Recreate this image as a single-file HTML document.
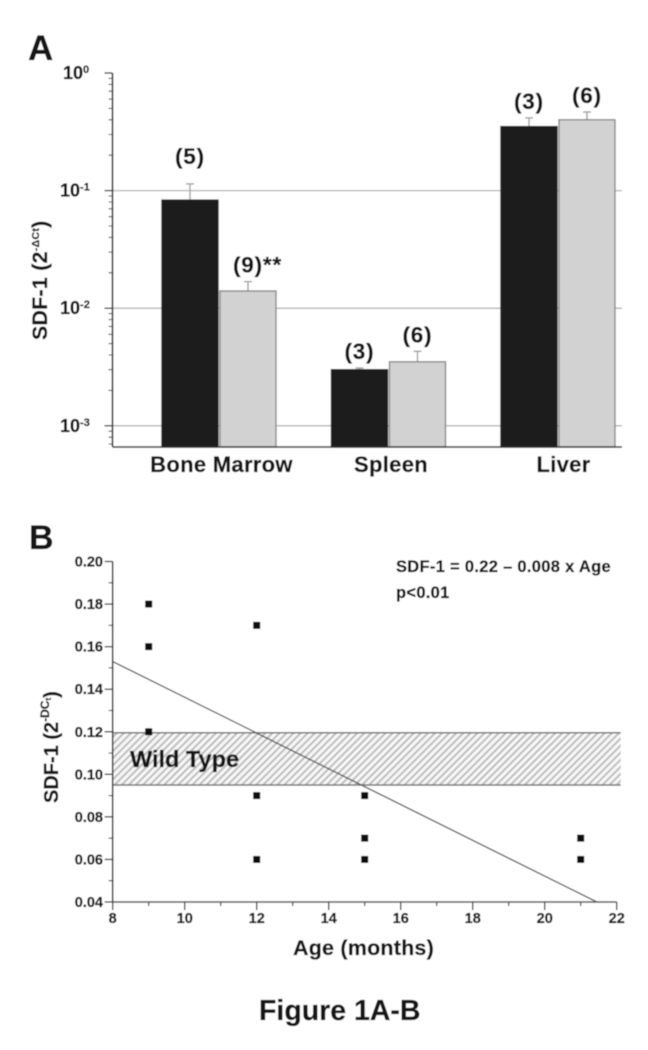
<!DOCTYPE html>
<html lang="en">
<head>
<meta charset="utf-8">
<title>Figure 1A-B</title>
<style>
html,body{margin:0;padding:0;background:#fff;width:648px;height:1050px;overflow:hidden}
svg{display:block}
text{font-family:"Liberation Sans",sans-serif;font-weight:bold;fill:#151515;stroke:#151515;stroke-width:0.3px}
</style>
</head>
<body>
<svg id="fig" xmlns="http://www.w3.org/2000/svg" width="648" height="1050" viewBox="0 0 648 1050">
  <defs>
    <pattern id="hatch" patternUnits="userSpaceOnUse" width="5" height="5" patternTransform="rotate(45)">
      <rect width="5" height="5" fill="#f8f8f8"/>
      <rect x="0" y="0" width="2" height="5" fill="#bdbdbd"/>
    </pattern>
    <filter id="soft" x="0" y="0" width="100%" height="100%"><feGaussianBlur stdDeviation="0.4"/></filter>
  </defs>
  <g id="root" filter="url(#soft)">
    <rect width="648" height="1050" fill="#fff"/>
    <text x="28" y="60" font-size="35">A</text>
    <text x="29" y="549" font-size="34">B</text>
    <g id="chartA"></g>
    <g id="chartB"></g>
    <text transform="translate(47 340) rotate(-90)" font-size="21.3" letter-spacing="0.3">SDF-1 (2<tspan font-size="10.5" dy="-8">-ΔCt</tspan><tspan dy="8">)</tspan></text>
    <text transform="translate(58 803) rotate(-90)" font-size="20">SDF-1 (2<tspan font-size="12" dy="-9">-DC</tspan><tspan font-size="8" dy="2">t</tspan><tspan dy="7">)</tspan></text>
    <text x="293" y="955" font-size="21.5" letter-spacing="0.2">Age (months)</text>
    <text x="396" y="572" font-size="16.5" letter-spacing="0.3">SDF-1 = 0.22 – 0.008 x Age</text>
    <text x="396" y="598" font-size="16.5" letter-spacing="0.3">p&lt;0.01</text>
    <text x="259" y="1020" font-size="28.5">Figure 1A-B</text>
  </g>
</svg>
<script>
// Panel A data
const tissues = ['Bone Marrow', 'Spleen', 'Liver'];
const blackValues = [0.083, 0.003, 0.35];
const greyValues = [0.014, 0.0035, 0.4];
const blackUpper = [0.114, 0.0031, 0.415];
const greyUpper = [0.0168, 0.0043, 0.466];
const blackCounts = ['(5)', '(3)', '(3)'];
const greyCounts = ['(9)**', '(6)', '(6)'];
const logDecades = [0, -1, -2, -3];
const logMinorMultipliers = [2, 3, 4, 5, 6, 7, 8, 9];

// Panel B data
const scatterAges = [9, 9, 9, 12, 12, 12, 15, 15, 15, 21, 21];
const scatterValues = [0.18, 0.16, 0.12, 0.17, 0.09, 0.06, 0.09, 0.07, 0.06, 0.07, 0.06];
const yTicksB = ['0.04', '0.06', '0.08', '0.10', '0.12', '0.14', '0.16', '0.18', '0.20'];
const xTicksB = ['8', '10', '12', '14', '16', '18', '20', '22'];
const wildTypeRange = [0.095, 0.1195];
const regressionAges = [8, 21.45];
const regressionValues = [0.153, 0.04];

const NS = 'http://www.w3.org/2000/svg';
function mk(parent, tag, attrs, txt) {
  const e = document.createElementNS(NS, tag);
  for (const k in attrs) e.setAttribute(k, attrs[k]);
  if (txt !== undefined) e.textContent = txt;
  parent.appendChild(e);
  return e;
}
const yA = v => 73 + (0 - Math.log10(v)) * 117.6;
const groupX = i => 162 + 169.5 * i;
const xB = a => 112.7 + (a - 8) * 36;
const yB = v => 902 - (v - 0.04) * 2128;

/* ---------- Panel A ---------- */
const A = document.getElementById('chartA');
const axisLeftA = 112.5, axisRightA = 622, axisBottomA = 447;

logDecades.forEach(function (d) {
  const y = yA(Math.pow(10, d));
  if (d < 0) {
    const grid = mk(A, 'line', {x1: axisLeftA, x2: axisRightA, y1: y, y2: y, stroke: '#b4b4b4', 'stroke-width': 1.3});
    
    
  }
  const tick = mk(A, 'line', {x1: axisLeftA - 8, x2: axisLeftA, y1: y, y2: y, stroke: '#333', 'stroke-width': 1.3});
  
  
  logMinorMultipliers.forEach(function (m) {
    const v = m * Math.pow(10, d - 1);
    if (yA(v) > axisBottomA) return;
    const my = yA(v);
    const minor = mk(A, 'line', {x1: axisLeftA - 4, x2: axisLeftA, y1: my, y2: my, stroke: '#444', 'stroke-width': 1});
    
    
  });
  const lab = mk(A, 'text', {x: d === 0 ? 63 : 60, y: y + 6, 'font-size': 18});
  
  
  lab.textContent = '10';
  const sup = mk(lab, 'tspan', {'font-size': 11, dy: -6}, String(d));
  
  
});

function drawBar(i, slot, value, upper, count, fill, stroke) {
  const w = 56, x = groupX(i) + slot * 58, c = x + w / 2;
  const top = yA(value), capY = yA(upper);
  const stem = mk(A, 'line', {x1: c, x2: c, y1: top, y2: capY, stroke: '#a0a0a0', 'stroke-width': 1.4});
  
  
  const cap = mk(A, 'line', {x1: c - 4, x2: c + 4, y1: capY, y2: capY, stroke: '#a0a0a0', 'stroke-width': 1.4});
  
  
  const bar = mk(A, 'rect', {x: x, y: top, width: w, height: axisBottomA - top, fill: fill, stroke: stroke, 'stroke-width': 1.4});
  
  
  const gap = (i === 0 && slot === 0) ? 20 : 9;
  const t = mk(A, 'text', {x: c - 15, y: capY - gap, 'font-size': 22.5, 'letter-spacing': 0.8}, count);
  
  
}
tissues.forEach(function (name, i) {
  drawBar(i, 0, blackValues[i], blackUpper[i], blackCounts[i], '#1b1b1b', '#222');
  drawBar(i, 1, greyValues[i], greyUpper[i], greyCounts[i], '#d2d2d2', '#8a8a8a');
  const labelOffset = i === 2 ? 62.5 : 59.5;
  const lab = mk(A, 'text', {x: groupX(i) + labelOffset, y: 472, 'font-size': 22, 'letter-spacing': 0.3, 'text-anchor': 'middle'}, name);
  
  
});
const yAxisA = mk(A, 'line', {x1: axisLeftA, x2: axisLeftA, y1: yA(1), y2: axisBottomA, stroke: '#333', 'stroke-width': 1.6});


const xAxisA = mk(A, 'line', {x1: axisLeftA, x2: axisRightA, y1: axisBottomA, y2: axisBottomA, stroke: '#333', 'stroke-width': 1.6});



/* ---------- Panel B ---------- */
const B = document.getElementById('chartB');
const bandTop = yB(wildTypeRange[1]), bandBottom = yB(wildTypeRange[0]);
const band = mk(B, 'rect', {x: xB(8), y: bandTop, width: 620.7 - xB(8), height: bandBottom - bandTop, fill: 'url(#hatch)'});


const bandT = mk(B, 'line', {x1: xB(8), x2: 620.7, y1: bandTop, y2: bandTop, stroke: '#666', 'stroke-width': 1.3});


const bandB = mk(B, 'line', {x1: xB(8), x2: 620.7, y1: bandBottom, y2: bandBottom, stroke: '#777', 'stroke-width': 1.5});


const wt = mk(B, 'text', {x: 130, y: 767, 'font-size': 23.5}, 'Wild Type');



const reg = mk(B, 'line', {x1: xB(regressionAges[0]), y1: yB(regressionValues[0]), x2: xB(regressionAges[1]), y2: yB(regressionValues[1]), stroke: '#555', 'stroke-width': 1.3});



scatterAges.forEach(function (a, i) {
  const p = mk(B, 'rect', {x: xB(a) - 3.5, y: yB(scatterValues[i]) - 3.5, width: 7, height: 7, fill: '#0c0c0c'});
  
  
});

yTicksB.forEach(function (label, i) {
  const v = parseFloat(label), y = yB(v);
  const t = mk(B, 'line', {x1: xB(8) - 8, x2: xB(8), y1: y, y2: y, stroke: '#333', 'stroke-width': 1.3});
  
  
  if (i < yTicksB.length - 1) {
    const my = yB(v + 0.01);
    const m = mk(B, 'line', {x1: xB(8) - 4, x2: xB(8), y1: my, y2: my, stroke: '#444', 'stroke-width': 1.1});
    
    
  }
  const l = mk(B, 'text', {x: 103, y: y + 5, 'font-size': 14.5, 'text-anchor': 'end'}, label);
  
  
});
xTicksB.forEach(function (label, i) {
  const a = parseFloat(label), x = xB(a);
  const t = mk(B, 'line', {x1: x, x2: x, y1: 902, y2: 910, stroke: '#333', 'stroke-width': 1.3});
  
  
  if (i < xTicksB.length - 1) {
    const mx = xB(a + 1);
    const m = mk(B, 'line', {x1: mx, x2: mx, y1: 902, y2: 906, stroke: '#444', 'stroke-width': 1.3});
    
    
  }
  const l = mk(B, 'text', {x: x, y: 923, 'font-size': 14.5, 'text-anchor': 'middle'}, label);
  
  
});
const yAxisB = mk(B, 'line', {x1: xB(8), x2: xB(8), y1: yB(0.2), y2: 902, stroke: '#333', 'stroke-width': 1.6});


const xAxisB = mk(B, 'line', {x1: xB(8), x2: xB(22), y1: 902, y2: 902, stroke: '#555', 'stroke-width': 1.6});


</script>
</body>
</html>
